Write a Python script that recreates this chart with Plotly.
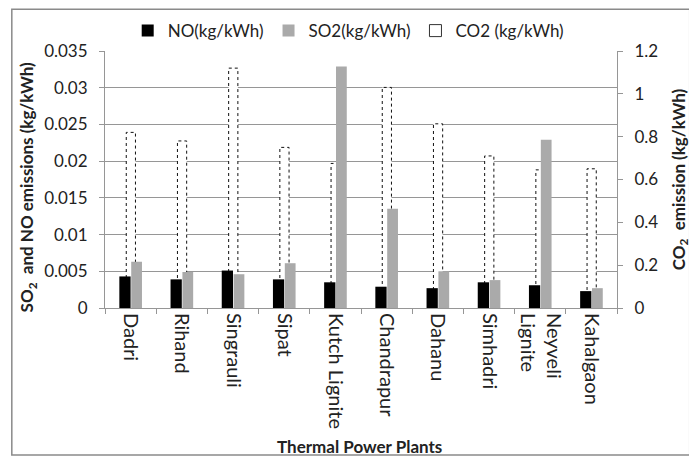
import plotly.graph_objects as go

plants = ["Dadri", "Rihand", "Singrauli", "Sipat", "Kutch Lignite", "Chandrapur",
          "Dahanu", "Simhadri", "Neyveli<br>Lignite", "Kahalgaon"]
no_vals = [0.0043, 0.0039, 0.0051, 0.0039, 0.0035, 0.0029, 0.0027, 0.0035, 0.0031, 0.0023]
so2_vals = [0.0063, 0.0049, 0.0046, 0.0061, 0.0329, 0.0135, 0.0050, 0.0038, 0.0229, 0.0027]
co2_vals = [0.82, 0.78, 1.12, 0.75, 0.675, 1.03, 0.86, 0.71, 0.645, 0.65]
left_ticks = [0, 0.005, 0.01, 0.015, 0.02, 0.025, 0.03, 0.035]
left_ticklabels = ["0", "0.005", "0.01", "0.015", "0.02", "0.025", "0.03", "0.035"]
right_ticks = [0, 0.2, 0.4, 0.6, 0.8, 1.0, 1.2]
right_ticklabels = ["0", "0.2", "0.4", "0.6", "0.8", "1", "1.2"]

FONT = "Lato"
TXT = "#222"
xpos = list(range(len(plants)))

NO_OFF, NO_W = -0.22, 0.22
SO2_OFF, SO2_W = 0.012, 0.21
CO2_OFF, CO2_W = -0.085, 0.18

fig = go.Figure()

# CO2 bars (white fill) on the base (right) axis, drawn behind
fig.add_trace(go.Bar(
    x=xpos, y=co2_vals, name="CO2 (kg/kWh)", yaxis="y", showlegend=False,
    marker=dict(color="white", line=dict(width=0)),
    width=CO2_W, offset=CO2_OFF,
))
# dotted outline for the CO2 bars, built from the same values
ox, oy = [], []
for i, v in zip(xpos, co2_vals):
    ox += [i + CO2_OFF, i + CO2_OFF, i + CO2_OFF + CO2_W, i + CO2_OFF + CO2_W, None]
    oy += [0, v, v, 0, None]
fig.add_trace(go.Scatter(
    x=ox, y=oy, mode="lines", yaxis="y", showlegend=False, hoverinfo="skip",
    line=dict(color="#111", width=1, dash="dot"),
))

fig.add_trace(go.Bar(
    x=xpos, y=no_vals, name="NO(kg/kWh)", yaxis="y2",
    marker=dict(color="black", line=dict(width=0)),
    width=NO_W, offset=NO_OFF, legendrank=1,
))
fig.add_trace(go.Bar(
    x=xpos, y=so2_vals, name="SO2(kg/kWh)", yaxis="y2",
    marker=dict(color="#aaaaaa", line=dict(width=0)),
    width=SO2_W, offset=SO2_OFF, legendrank=2,
))
# legend-only entry for CO2
fig.add_trace(go.Bar(
    x=[None], y=[None], name="CO2 (kg/kWh)", yaxis="y2",
    marker=dict(color="white", line=dict(color="#333", width=1)),
    legendrank=3,
))

grid_col = "#969696"
fig.update_layout(
    width=689, height=452,
    margin=dict(l=97, r=80, t=43, b=152, autoexpand=False),
    paper_bgcolor="white", plot_bgcolor="white",
    font=dict(family=FONT, size=17, color=TXT),
    showlegend=True,
    legend=dict(orientation="h", x=0.475, xanchor="center", yref="container", y=0.949,
                yanchor="middle", font=dict(size=17, family=FONT, color=TXT),
                traceorder="normal", itemwidth=30, bgcolor="rgba(0,0,0,0)"),
    xaxis=dict(
        range=[-0.5, 9.5], tickmode="array", tickvals=xpos, ticktext=plants,
        tickangle=90, showline=True, linecolor=grid_col, linewidth=1,
        ticks="", showgrid=False, zeroline=False,
        minor=dict(tick0=-0.5, dtick=1, ticks="outside", ticklen=5, tickcolor=grid_col,
                   showgrid=False),
        tickfont=dict(size=20, family=FONT, color=TXT),
        automargin=False,
    ),
    yaxis=dict(
        side="right", range=[0, 1.2], tickvals=right_ticks, ticktext=right_ticklabels,
        showgrid=False, showline=True, linecolor=grid_col, ticks="outside", ticklen=5,
        tickcolor=grid_col, zeroline=False, automargin=False, ticklabelstandoff=8,
        tickfont=dict(size=17, family=FONT, color=TXT),
        title=dict(text="<b>CO<sub>2</sub>  emission (kg/kWh)</b>",
                   font=dict(size=17, family=FONT, color=TXT)),
    ),
    yaxis2=dict(
        side="left", overlaying="y", range=[0, 0.035], tickvals=left_ticks,
        ticktext=left_ticklabels, showgrid=True, gridcolor=grid_col, gridwidth=1,
        showline=True, linecolor=grid_col, ticks="outside", ticklen=5, tickcolor=grid_col,
        zeroline=False, automargin=False, ticklabelstandoff=8,
        tickfont=dict(size=17, family=FONT, color=TXT),
    ),
    annotations=[
        dict(text="<b>Thermal Power Plants</b>", xref="paper", yref="paper",
             x=0.498, y=-0.54, xanchor="center", yanchor="middle", showarrow=False,
             font=dict(size=17, family=FONT, color=TXT)),
        dict(text="<b>SO<sub>2</sub>  and NO emissions (kg/kWh)</b>", xref="paper", yref="paper",
             x=-0.150, y=0.47, xanchor="center", yanchor="middle", showarrow=False,
             textangle=-90, font=dict(size=17, family=FONT, color=TXT)),
    ],
)

# outer frame around the chart
fig.add_shape(type="rect", xref="paper", yref="paper", x0=-0.182, x1=1.142, y0=-0.572, y1=1.162,
              line=dict(color="#8a8a8a", width=1.5), fillcolor="rgba(0,0,0,0)", layer="above")

fig.write_html("out.html")
